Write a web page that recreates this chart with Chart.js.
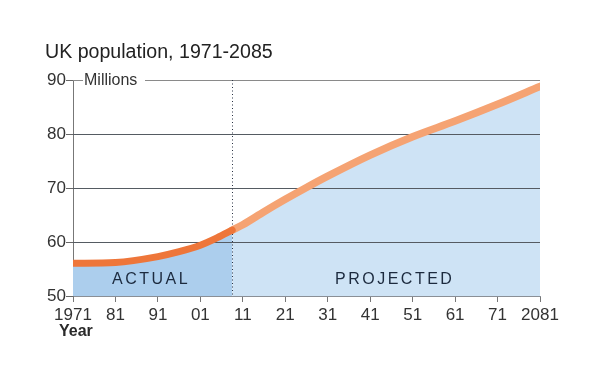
<!DOCTYPE html>
<html>
<head>
<meta charset="utf-8">
<script src="https://cdn.jsdelivr.net/npm/chart.js@4"></script>
<style>
  html, body { margin: 0; padding: 0; background: #fff; }
  #wrap { width: 600px; height: 383px; position: relative; }
</style>
</head>
<body>
<div id="wrap"><canvas id="popChart"></canvas></div>
<script>
// values (millions)
const actualYears = [1971, 1981, 1991, 1996, 2001, 2005, 2008.5];
const actualPop = [56.05, 56.2, 57.3, 58.2, 59.4, 60.8, 62.2];
const projYears = [2008.5, 2011, 2016, 2021, 2026, 2031, 2041, 2051, 2061, 2071, 2081];
const projPop = [62.2, 63.2, 65.6, 67.9, 70.1, 72.2, 76.1, 79.5, 82.4, 85.5, 88.8];
const xTicks = [1971, 1981, 1991, 2001, 2011, 2021, 2031, 2041, 2051, 2061, 2071, 2081];
const yTicks = [50, 60, 70, 80, 90];

const FONT = "'Liberation Sans', Arial, sans-serif";
const toXY = (xs, ys) => xs.map((x, i) => ({ x: x, y: ys[i] }));

// grid lines + dotted split line, drawn between the fills and the lines
const gridPlugin = {
    id: "gridUnder",
    beforeDatasetDraw(chart, args) {
        if (args.index !== 1) return;
        const ctx = chart.ctx;
        const xs = chart.scales.x, ys = chart.scales.y;
        const left = xs.getPixelForValue(1971), right = xs.getPixelForValue(2081);
        ctx.save();
        ctx.lineWidth = 1;
        yTicks.forEach(v => {
            if (v === 50) return;
            const y = Math.round(ys.getPixelForValue(v)) + 0.5;
            ctx.strokeStyle = v === 90 ? "#8a8a8a" : "#555b62";
            ctx.beginPath();
            if (v === 90) {
                ctx.moveTo(left, y); ctx.lineTo(left + 10, y);
                ctx.moveTo(left + 72, y); ctx.lineTo(right, y);
            } else {
                ctx.moveTo(left, y); ctx.lineTo(right, y);
            }
            ctx.stroke();
        });
        // dotted line where actual meets projected
        const sx = Math.round(xs.getPixelForValue(actualYears[actualYears.length - 1])) + 0.5;
        ctx.strokeStyle = "#2a3344";
        ctx.setLineDash([1, 2.5]);
        ctx.beginPath();
        ctx.moveTo(sx, ys.getPixelForValue(90));
        ctx.lineTo(sx, ys.getPixelForValue(50));
        ctx.stroke();
        ctx.restore();
    },
    afterDraw(chart) {
        const ctx = chart.ctx;
        const xs = chart.scales.x, ys = chart.scales.y;
        ctx.save();
        // title
        ctx.fillStyle = "#222";
        ctx.font = "19.6px " + FONT;
        ctx.textAlign = "left";
        ctx.textBaseline = "alphabetic";
        ctx.fillText("UK population, 1971-2085", 45, 58);
        // unit label
        ctx.font = "16px " + FONT;
        ctx.fillStyle = "#333";
        ctx.textBaseline = "middle";
        ctx.fillText("Millions", xs.getPixelForValue(1971) + 11, ys.getPixelForValue(90) + 1);
        // axis name
        ctx.font = "bold 16px " + FONT;
        ctx.fillStyle = "#2a2a2a";
        ctx.textBaseline = "alphabetic";
        ctx.fillText("Year", 59, 336);
        // region labels
        ctx.font = "16px " + FONT;
        ctx.fillStyle = "#1c2a3e";
        ctx.letterSpacing = "2.5px";
        ctx.textAlign = "left";
        ctx.textBaseline = "middle";
        const ly = ys.getPixelForValue(53);
        ctx.fillText("ACTUAL", 112, ly);
        ctx.fillText("PROJECTED", 335, ly);
        ctx.restore();
    }
};

const ctx = document.getElementById("popChart").getContext("2d");
new Chart(ctx, {
    type: "line",
    data: {
        datasets: [
            {
                data: toXY(actualYears, actualPop),
                borderColor: "rgb(238, 118, 58)",
                borderWidth: 7,
                borderCapStyle: "round",
                pointRadius: 0,
                fill: false,
                cubicInterpolationMode: "monotone"
            },
            {
                data: toXY(projYears, projPop),
                borderColor: "rgb(245, 163, 115)",
                borderWidth: 7.5,
                borderCapStyle: "round",
                pointRadius: 0,
                fill: false,
                cubicInterpolationMode: "monotone"
            },
            {
                data: toXY(actualYears, actualPop),
                borderWidth: 0,
                pointRadius: 0,
                backgroundColor: "rgb(172, 206, 237)",
                fill: "start",
                cubicInterpolationMode: "monotone"
            },
            {
                data: toXY(projYears, projPop),
                borderWidth: 0,
                pointRadius: 0,
                backgroundColor: "rgb(206, 227, 245)",
                fill: "start",
                cubicInterpolationMode: "monotone"
            }
        ]
    },
    options: {
        responsive: true,
        maintainAspectRatio: false,
        animation: false,
        layout: { padding: { left: 0, top: 80, right: 60, bottom: 0 } },
        plugins: {
            legend: { display: false },
            tooltip: { enabled: false },
            title: { display: false }
        },
        scales: {
            x: {
                type: "linear",
                min: 1971,
                max: 2081,
                afterBuildTicks: scale => { scale.ticks = xTicks.map(v => ({ value: v })); },
                afterFit: scale => { scale.height = 87; },
                ticks: {
                    autoSkip: false,
                    maxRotation: 0,
                    padding: 3,
                    color: "#333",
                    font: { family: FONT, size: 17 },
                    callback: v => (v === 1971 || v === 2081) ? String(v) : String(v).slice(2)
                },
                grid: { drawOnChartArea: false, drawTicks: true, tickLength: 6, color: "#777" },
                border: { display: true, color: "#8a8f96", width: 1 }
            },
            y: {
                min: 50,
                max: 90,
                afterBuildTicks: scale => { scale.ticks = yTicks.map(v => ({ value: v })); },
                afterFit: scale => { scale.width = 73; },
                ticks: {
                    padding: 0,
                    color: "#333",
                    font: { family: FONT, size: 17 }
                },
                grid: { drawOnChartArea: false, drawTicks: true, tickLength: 7, color: "#666" },
                border: { display: true, color: "#777", width: 1 }
            }
        }
    },
    plugins: [gridPlugin]
});
</script>
</body>
</html>
